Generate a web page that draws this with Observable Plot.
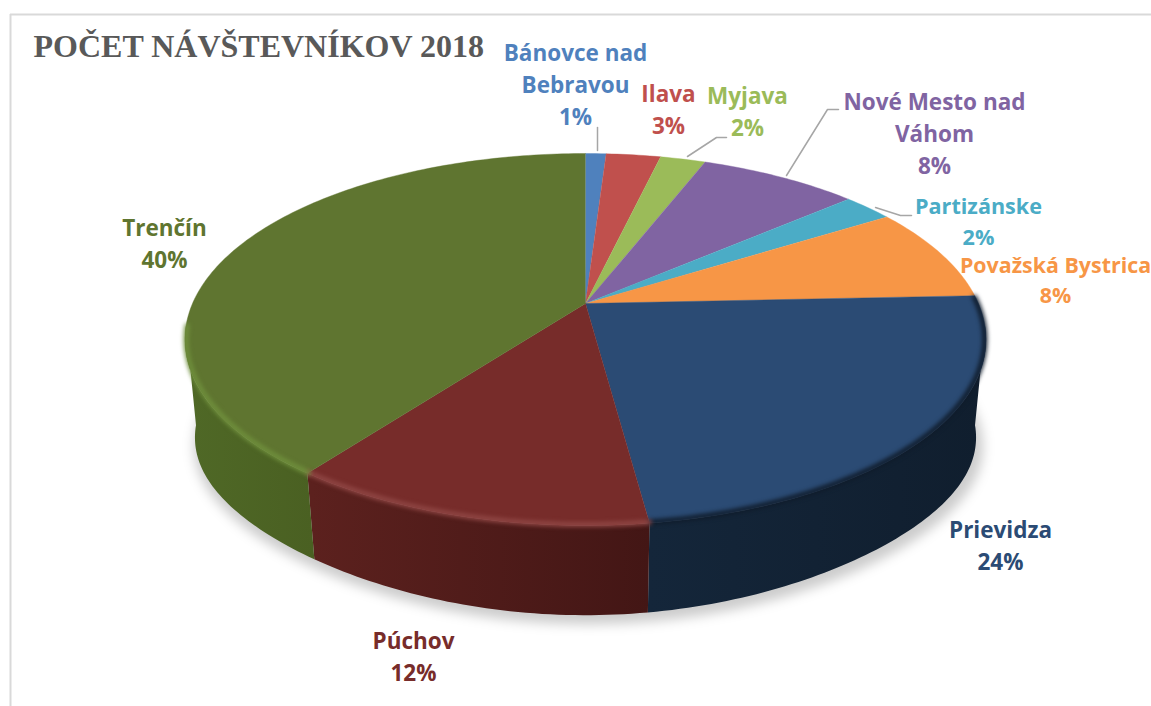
<!DOCTYPE html>
<html><head><meta charset="utf-8">
<script src="https://cdn.jsdelivr.net/npm/d3@7"></script>
<script src="https://cdn.jsdelivr.net/npm/@observablehq/plot@0.6"></script>
<style>html,body{margin:0;padding:0;background:#fff;overflow:hidden}svg{display:block}</style>
</head><body><div id="chart"></div>
<script>
// DATA
const title = "POČET NÁVŠTEVNÍKOV 2018";
const categories = ["Bánovce nad Bebravou","Ilava","Myjava","Nové Mesto nad Váhom","Partizánske","Považská Bystrica","Prievidza","Púchov","Trenčín"];
const shares = [1.0,2.65,2.2,7.75,2.45,8.25,23.6,12.3,39.8];
const wrapped = ["Bánovce nad\nBebravou","Ilava","Myjava","Nové Mesto nad\nVáhom","Partizánske","Považská Bystrica","Prievidza","Púchov","Trenčín"];

// STYLE + LAYOUT
const W = 1151, H = 706;
const topColors  = ["#4f81bd","#c0504d","#9bbb59","#8064a2","#4bacc6","#f79646","#2b4b74","#772c2a","#5f7530"];
const textColors = ["#4f81bd","#c0504d","#9bbb59","#8064a2","#4bacc6","#f79646","#2b4b74","#772c2a","#5f7530"];
const sideFrom   = ["#3b618e","#90393a","#748c42","#604b7a","#38819a","#b97034","#14263a","#5c211e","#4f6826"];
const sideTo     = ["#3b618e","#90393a","#748c42","#604b7a","#38819a","#b97034","#101e2e","#431615","#4a6022"];
const rimColors  = [null,null,null,null,null,null,"#0f1b2a","#8f4644","#6f8f3c"];
const labelX = [575,668,747,934,978,1055,1000,413,164];
const labelY = [82,107,109,131,219,278,543,654,241];
const labelSize = [22.5,22.5,22.5,22.5,21.6,21.4,22.5,22.5,22.5];
const leaders = [
  {k:"a",pts:[[597,127],[597,150]]},
  {k:"b",pts:[[687,156],[716,137],[726,137]]},
  {k:"c",pts:[[786,175],[827,109],[838,109]]},
  {k:"d",pts:[[875,207],[900,215],[911,215]]}
];

// Perspective disc: unit circle -> page coordinates
const cx = 585, cy = 303, kx = 393, ky = 179, b = 0.1935;
const top3d = (deg, r = 1) => {
  const t = deg * Math.PI / 180, u = r * Math.sin(t), v = r * Math.cos(t), w = 1 + b * v;
  return [cx + kx * u / w, cy - ky * v / w];
};
const low3d = (deg) => {
  const [x, y] = top3d(deg), f = Math.sin(2 * deg * Math.PI / 180);
  return [cx + 0.975 * (x - cx), 0.95 * y + 116 - 7 * f * f];
};
const arcPts = (a0, a1, f) => {
  const n = Math.max(2, Math.ceil(Math.abs(a1 - a0)));
  return d3.range(n + 1).map(i => f(a0 + (a1 - a0) * i / n));
};

let acc = 0;
const slices = shares.map((s, i) => {
  const a0 = acc * 3.6; acc += s; const a1 = acc * 3.6;
  return {i, name: categories[i], a0, a1};
});
const X = d => d[0], Y = d => d[1];

const defs = () => {
  const d = d3.create("svg:defs");
  slices.forEach(s => {
    const g = d.append("linearGradient").attr("id", "side" + s.i)
      .attr("gradientUnits", "userSpaceOnUse")
      .attr("x1", s.i === 8 ? 190 : s.i === 7 ? 310 : 650).attr("x2", s.i === 8 ? 313 : s.i === 7 ? 650 : 980)
      .attr("y1", 0).attr("y2", 0);
    g.append("stop").attr("offset", 0).attr("stop-color", sideFrom[s.i]);
    g.append("stop").attr("offset", 1).attr("stop-color", sideTo[s.i]);
  });
  return d.node();
};

const marks = [defs];

// frame
marks.push(Plot.ruleX([10], {y1: 14, y2: H, stroke: "#d9d9d9", strokeWidth: 2}));
marks.push(Plot.ruleY([14], {x1: 10, x2: W, stroke: "#d9d9d9", strokeWidth: 2}));

// soft shadow under the disc
marks.push(Plot.line(arcPts(0, 360, low3d).map(([x, y]) => [x + (x - cx) * 0.01 + 3, y + 9]),
  {x: X, y: Y, fill: "#000", fillOpacity: 0.2, stroke: "none", imageFilter: "blur(6px)"}));

// sides: only the part between the two silhouette tangents is visible
const sideStart = 97, sideEnd = 263;
slices.forEach(s => {
  const a0 = Math.max(s.a0, sideStart), a1 = Math.min(s.a1, sideEnd);
  if (a1 <= a0) return;
  const pts = [...arcPts(a0, a1, a => top3d(a)), ...arcPts(a1, a0, low3d)];
  marks.push(Plot.line(pts, {x: X, y: Y, fill: `url(#side${s.i})`, stroke: "none"}));
});

// top faces
slices.forEach(s => {
  const pts = [[cx, cy], ...arcPts(s.a0, s.a1, a => top3d(a))];
  marks.push(Plot.line(pts, {x: X, y: Y, fill: topColors[s.i], stroke: topColors[s.i], strokeWidth: 0.4}));
});

// bevel along the front edge
slices.forEach(s => {
  if (!rimColors[s.i]) return;
  const a0 = Math.max(s.a0, 88), a1 = Math.min(s.a1, 263);
  if (a1 <= a0) return;
  marks.push(Plot.line(arcPts(a0, a1, a => top3d(a, 0.997)),
    {x: X, y: Y, stroke: rimColors[s.i], strokeWidth: 5, imageFilter: "blur(2px)"}));
});

// leaders
leaders.forEach(l => marks.push(Plot.line(l.pts, {x: X, y: Y, stroke: "#a6a6a6", strokeWidth: 1.5})));

// labels
marks.push(Plot.text(slices, {
  x: d => labelX[d.i], y: d => labelY[d.i],
  text: d => `${wrapped[d.i]}\n${Math.round(shares[d.i])}%`,
  fill: d => textColors[d.i],
  fontSize: d => labelSize[d.i],
  textAnchor: "middle", lineAnchor: "middle", lineHeight: 1.42,
  fontFamily: "'Open Sans'", fontWeight: 700
}));

// title
marks.push(Plot.text([title], {
  x: 33, y: 46, text: d => d, textAnchor: "start", lineAnchor: "middle",
  fill: "#595959", fontFamily: "'Liberation Serif'", fontWeight: 700, fontSize: 32
}));

const chart = Plot.plot({
  width: W, height: H, margin: 0,
  x: {domain: [0, W], range: [0, W], axis: null},
  y: {domain: [0, H], range: [0, H], axis: null},
  color: {type: "identity"},
  style: {background: "#fff"},
  marks
});
document.getElementById("chart").append(chart);
</script></body></html>
